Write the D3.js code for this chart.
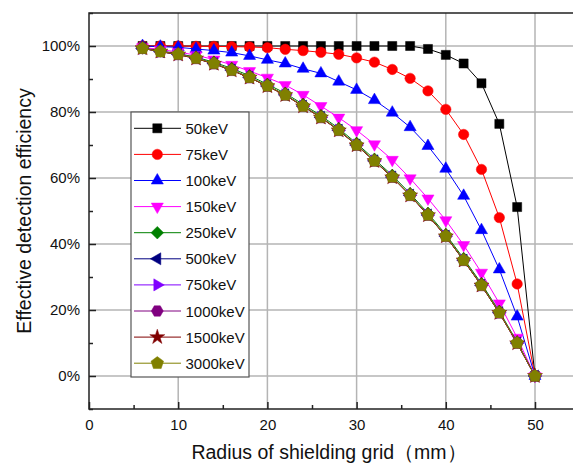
<!DOCTYPE html>
<html>
<head>
<meta charset="utf-8">
<script src="https://cdn.jsdelivr.net/npm/d3@7/dist/d3.min.js"></script>
<style>
	body{margin:0;background:#fff;}
	svg text{font-family:"Liberation Sans",Arial,sans-serif;fill:#111;}
</style>
</head>
<body>
<div id="chart_div"></div>
<script>

////////////////////////////////////////
// data
////////////////////////////////////////

var radius = [6,8,10,12,14,16,18,20,22,24,26,28,30,32,34,36,38,40,42,44,46,48,50];

var eff_50   = [100,100,100,100,100,100,100,100,100,100,100,100,100,100,100,100,99.1,97.3,94.7,88.7,76.4,51.2,0];
var eff_75   = [100,100,100,99.9,99.9,99.8,99.7,99.5,99.0,98.6,98.1,97.5,96.4,95.1,92.9,90.2,86.4,80.8,73.2,62.6,48.0,27.9,0];
var eff_100  = [100,99.8,99.6,99.1,98.6,98.0,97.0,95.8,94.7,93.1,91.7,89.2,86.7,83.6,79.8,75.4,69.7,62.8,54.6,44.2,32.3,18.0,0];
var eff_150  = [99.6,98.9,98.2,97.2,95.9,94.3,92.4,90.4,88.2,85.2,81.8,78.3,74.5,70.2,65.5,59.9,53.8,47.2,39.7,31.3,22.0,11.6,0];
var eff_250  = [99.4,98.5,97.7,96.6,95.1,93.2,91.0,88.4,85.7,82.3,78.9,75.0,70.5,65.7,60.8,55.3,49.3,42.9,35.6,28.0,19.6,10.3,0];
var eff_500  = [99.3,98.3,97.5,96.3,94.7,92.7,90.5,87.9,85.2,81.8,78.4,74.5,70.0,65.2,60.3,54.8,48.8,42.4,35.1,27.5,19.2,10.0,0];
var eff_750  = [99.3,98.3,97.5,96.3,94.7,92.7,90.5,87.9,85.2,81.8,78.4,74.5,70.0,65.2,60.3,54.8,48.8,42.4,35.1,27.5,19.2,10.0,0];
var eff_1000 = [99.3,98.3,97.4,96.2,94.6,92.6,90.4,87.8,85.1,81.7,78.3,74.4,69.9,65.1,60.2,54.7,48.7,42.3,35.0,27.4,19.1,9.9,0];
var eff_1500 = [99.3,98.3,97.4,96.2,94.6,92.6,90.4,87.8,85.1,81.7,78.3,74.4,69.9,65.1,60.2,54.7,48.7,42.3,35.0,27.4,19.1,9.9,0];
var eff_3000 = [99.3,98.3,97.5,96.3,94.7,92.7,90.5,87.9,85.2,81.8,78.4,74.5,70.0,65.2,60.3,54.8,48.8,42.4,35.1,27.5,19.2,10.0,0];

var seriesNames  = ['50keV','75keV','100keV','150keV','250keV','500keV','750keV','1000keV','1500keV','3000keV'];
var seriesValues = [eff_50,eff_75,eff_100,eff_150,eff_250,eff_500,eff_750,eff_1000,eff_1500,eff_3000];
var seriesColors = ['#000000','#ff0000','#0000ff','#ff00ff','#008000','#000080','#8000ff','#800080','#800000','#808000'];
var seriesShapes = ['square','circle','triUp','triDown','diamond','triLeft','triRight','hexagon','star','pentagon'];

var xTicks = [0,10,20,30,40,50];
var yTicks = [0,20,40,60,80,100];

////////////////////////////////////////
// layout
////////////////////////////////////////

var chart_w = 573;
var chart_h = 465;
var plotLeft = 89;
var plotRight = 579.6;
var plotTop = 13;
var plotBottom = 409;

var svg = d3.select('#chart_div').append('svg')
	.attr('width',chart_w)
	.attr('height',chart_h);

var x = d3.scaleLinear().domain([0,55]).range([plotLeft,plotRight]);
var y = d3.scaleLinear().domain([-10,110]).range([plotBottom,plotTop]);

////////////////////////////////////////
// grid + frame + axes
////////////////////////////////////////

svg.append('g')
	.selectAll('line')
	.data(xTicks.slice(1))
	.enter().append('line')
	.attr('x1',function(d){return x(d);})
	.attr('x2',function(d){return x(d);})
	.attr('y1',plotTop)
	.attr('y2',plotBottom)
	.attr('stroke','#b4b4b4')
	.attr('stroke-width',1.5);

svg.append('g')
	.selectAll('line')
	.data(yTicks)
	.enter().append('line')
	.attr('x1',plotLeft)
	.attr('x2',plotRight)
	.attr('y1',function(d){return y(d);})
	.attr('y2',function(d){return y(d);})
	.attr('stroke','#b4b4b4')
	.attr('stroke-width',1.5);

svg.append('rect')
	.attr('x',plotLeft)
	.attr('y',plotTop)
	.attr('width',plotRight-plotLeft)
	.attr('height',plotBottom-plotTop)
	.attr('fill','none')
	.attr('stroke','#222')
	.attr('stroke-width',1.5);

var xAxis = d3.axisBottom(x)
	.tickValues(d3.range(0,56,5))
	.tickSize(0)
	.tickFormat(function(d){return d%10===0 ? d : '';});

var gx = svg.append('g')
	.attr('transform','translate(0,'+plotBottom+')')
	.call(xAxis);
gx.select('.domain').remove();
gx.selectAll('.tick line')
	.attr('y2',function(d){return d%10===0 ? -7 : -4;})
	.attr('stroke','#222')
	.attr('stroke-width',1.5);
gx.selectAll('.tick text')
	.attr('dy',0)
	.attr('y',21)
	.attr('font-size',15)
	.attr('font-family','"Liberation Sans",Arial,sans-serif')
	.attr('fill','#111');

var yAxis = d3.axisLeft(y)
	.tickValues(d3.range(-10,111,10))
	.tickSize(0)
	.tickFormat(function(d){return (d>=0 && d%20===0) ? d+'%' : '';});

var gy = svg.append('g')
	.attr('transform','translate('+plotLeft+',0)')
	.call(yAxis);
gy.select('.domain').remove();
gy.selectAll('.tick line')
	.attr('x2',function(d){return d%20===0 ? 7 : 4;})
	.attr('stroke','#222')
	.attr('stroke-width',1.5);
gy.selectAll('.tick text')
	.attr('x',-9)
	.attr('font-size',15)
	.attr('font-family','"Liberation Sans",Arial,sans-serif')
	.attr('fill','#111');

svg.append('text')
	.attr('x',329)
	.attr('y',459)
	.attr('text-anchor','middle')
	.attr('font-size',19.5)
	.text('Radius of shielding grid（mm）');

svg.append('text')
	.attr('transform','translate(31,211) rotate(-90)')
	.attr('text-anchor','middle')
	.attr('font-size',19.5)
	.text('Effective detection efficiency');

////////////////////////////////////////
// markers
////////////////////////////////////////

function polygon(n,r,rot){
	var pts = [];
	for(var i=0;i<n;i++){
		var a = rot + i*2*Math.PI/n;
		pts.push([r*Math.cos(a),r*Math.sin(a)]);
	}
	return 'M'+pts.map(function(p){return p[0].toFixed(2)+','+p[1].toFixed(2);}).join('L')+'Z';
}

function markerPath(shape){
	switch(shape){
		case 'square':   return polygon(4,6.4,Math.PI/4);
		case 'circle':   return d3.symbol(d3.symbolCircle,85)();
		case 'triUp':    return polygon(3,7,-Math.PI/2);
		case 'triDown':  return polygon(3,7,Math.PI/2);
		case 'diamond':  return polygon(4,6.3,0);
		case 'triLeft':  return polygon(3,7,Math.PI);
		case 'triRight': return polygon(3,7,0);
		case 'hexagon':  return polygon(6,6,0);
		case 'star':     return d3.symbol(d3.symbolStar,70)();
		case 'pentagon': return polygon(5,6.6,-Math.PI/2);
	}
}

////////////////////////////////////////
// series
////////////////////////////////////////

var line = d3.line()
	.x(function(d){return x(d[0]);})
	.y(function(d){return y(d[1]);});

seriesValues.forEach(function(vals,i){
	var pts = radius.map(function(r,j){return [r,vals[j]];});
	var g = svg.append('g');
	g.append('path')
		.datum(pts)
		.attr('d',line)
		.attr('fill','none')
		.attr('stroke',seriesColors[i])
		.attr('stroke-width',1);
	g.selectAll('path.mk')
		.data(pts)
		.enter().append('path')
		.attr('class','mk')
		.attr('d',markerPath(seriesShapes[i]))
		.attr('transform',function(d){return 'translate('+x(d[0])+','+y(d[1])+')';})
		.attr('fill',seriesColors[i])
		.attr('stroke',seriesColors[i])
		.attr('stroke-width',0.5);
});

////////////////////////////////////////
// legend
////////////////////////////////////////

var legend_x = 131;
var legend_y = 112;
var legend_w = 118;
var legend_h = 265;
var legend_step = 26.1;

svg.append('rect')
	.attr('x',legend_x)
	.attr('y',legend_y)
	.attr('width',legend_w)
	.attr('height',legend_h)
	.attr('fill','#fff')
	.attr('stroke','#555')
	.attr('stroke-width',1.2);

var legendItem = svg.append('g')
	.selectAll('g')
	.data(seriesNames)
	.enter().append('g')
	.attr('transform',function(d,i){return 'translate(0,'+(legend_y+16.3+i*legend_step)+')';});

legendItem.append('line')
	.attr('x1',legend_x+3)
	.attr('x2',legend_x+50)
	.attr('stroke',function(d,i){return seriesColors[i];})
	.attr('stroke-width',1);

legendItem.append('path')
	.attr('d',function(d,i){return markerPath(seriesShapes[i]);})
	.attr('transform','translate('+(legend_x+26.3)+',0)')
	.attr('fill',function(d,i){return seriesColors[i];})
	.attr('stroke',function(d,i){return seriesColors[i];})
	.attr('stroke-width',0.5);

legendItem.append('text')
	.attr('x',legend_x+54.5)
	.attr('y',5.5)
	.attr('font-size',15)
	.text(function(d){return d;});

</script>
</body>
</html>
